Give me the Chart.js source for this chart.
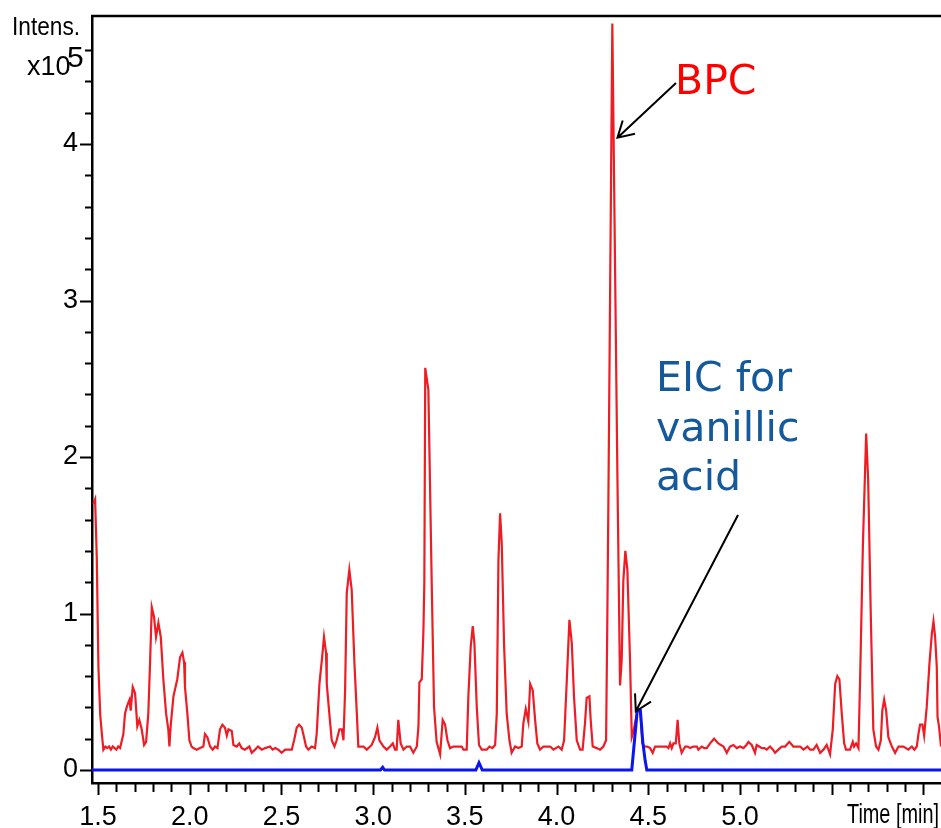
<!DOCTYPE html>
<html>
<head>
<meta charset="utf-8">
<script src="https://cdn.jsdelivr.net/npm/chart.js@4.4.1/dist/chart.umd.min.js"></script>
<style>
  html, body { margin: 0; padding: 0; background: #fff; }
  #wrap { width: 941px; height: 828px; position: relative; }
</style>
</head>
<body>
<div id="wrap"><canvas id="chrom"></canvas></div>
<script>
// BPC trace (time in min, intensity x10^5)
const bpcTime = [
  1.474, 1.484, 1.493, 1.502, 1.512, 1.520, 1.529, 1.540, 1.550, 1.560, 1.570, 1.580, 1.590, 1.600, 1.610, 1.620,
  1.630, 1.638, 1.647, 1.656, 1.665, 1.672, 1.678, 1.689, 1.702, 1.714, 1.725, 1.738, 1.751, 1.762, 1.774, 1.784,
  1.793, 1.805, 1.816, 1.829, 1.842, 1.856, 1.871, 1.883, 1.889, 1.896, 1.911, 1.932, 1.947, 1.960, 1.969, 1.974,
  1.987, 1.998, 2.010, 2.020, 2.038, 2.056, 2.074, 2.083, 2.096, 2.111, 2.125, 2.138, 2.151, 2.165, 2.178, 2.192,
  2.202, 2.211, 2.229, 2.238, 2.256, 2.270, 2.283, 2.300, 2.325, 2.338, 2.356, 2.372, 2.393, 2.411, 2.438, 2.452,
  2.466, 2.483, 2.501, 2.520, 2.540, 2.556, 2.569, 2.583, 2.596, 2.611, 2.623, 2.634, 2.647, 2.665, 2.683, 2.692,
  2.707, 2.720, 2.732, 2.743, 2.747, 2.761, 2.774, 2.789, 2.801, 2.816, 2.829, 2.838, 2.847, 2.856, 2.870, 2.883,
  2.898, 2.911, 2.919, 2.947, 2.965, 2.992, 3.010, 3.023, 3.034, 3.056, 3.074, 3.092, 3.107, 3.119, 3.128, 3.137,
  3.150, 3.165, 3.183, 3.201, 3.219, 3.238, 3.247, 3.252, 3.265, 3.274, 3.279, 3.284, 3.301, 3.319, 3.332, 3.346,
  3.365, 3.379, 3.392, 3.405, 3.419, 3.437, 3.460, 3.483, 3.492, 3.510, 3.519, 3.532, 3.543, 3.552, 3.565, 3.577,
  3.592, 3.619, 3.634, 3.650, 3.665, 3.674, 3.683, 3.692, 3.701, 3.714, 3.728, 3.743, 3.755, 3.774, 3.792, 3.810,
  3.819, 3.832, 3.846, 3.856, 3.870, 3.883, 3.895, 3.910, 3.928, 3.947, 3.965, 3.983, 4.010, 4.028, 4.041, 4.056,
  4.070, 4.083, 4.095, 4.110, 4.128, 4.142, 4.155, 4.164, 4.179, 4.186, 4.197, 4.219, 4.237, 4.255, 4.270, 4.277,
  4.283, 4.304, 4.332, 4.346, 4.355, 4.364, 4.375, 4.386, 4.401, 4.410, 4.420, 4.440, 4.457, 4.468, 4.480, 4.495,
  4.510, 4.524, 4.537, 4.560, 4.582, 4.600, 4.610, 4.619, 4.628, 4.637, 4.650, 4.660, 4.669, 4.682, 4.701, 4.715,
  4.728, 4.745, 4.765, 4.773, 4.792, 4.805, 4.819, 4.837, 4.859, 4.882, 4.910, 4.928, 4.946, 4.964, 4.983, 5.000,
  5.019, 5.035, 5.046, 5.064, 5.082, 5.091, 5.105, 5.119, 5.133, 5.146, 5.164, 5.180, 5.191, 5.209, 5.228, 5.246,
  5.269, 5.291, 5.310, 5.328, 5.346, 5.368, 5.382, 5.400, 5.418, 5.437, 5.455, 5.473, 5.491, 5.506, 5.519, 5.531,
  5.542, 5.555, 5.568, 5.578, 5.600, 5.615, 5.622, 5.633, 5.646, 5.655, 5.670, 5.688, 5.699, 5.713, 5.727, 5.742,
  5.755, 5.768, 5.776, 5.786, 5.797, 5.809, 5.828, 5.846, 5.864, 5.891, 5.918, 5.937, 5.951, 5.964, 5.973, 5.982,
  5.995, 6.004, 6.018, 6.033, 6.046, 6.055, 6.064, 6.073, 6.077, 6.085, 6.096
];
const bpcIntensity = [
  1.70, 1.73, 1.36, 0.66, 0.35, 0.24, 0.13, 0.15, 0.14, 0.15, 0.13, 0.15, 0.14, 0.13, 0.15, 0.14,
  0.19, 0.23, 0.36, 0.40, 0.43, 0.45, 0.38, 0.53, 0.49, 0.28, 0.32, 0.26, 0.16, 0.18, 0.36, 0.70,
  1.04, 0.98, 0.85, 0.94, 0.85, 0.58, 0.36, 0.26, 0.15, 0.28, 0.47, 0.58, 0.72, 0.75, 0.69, 0.53,
  0.36, 0.19, 0.15, 0.14, 0.13, 0.14, 0.15, 0.23, 0.21, 0.15, 0.13, 0.15, 0.14, 0.26, 0.29, 0.27,
  0.22, 0.26, 0.25, 0.16, 0.15, 0.17, 0.14, 0.13, 0.15, 0.11, 0.13, 0.15, 0.13, 0.14, 0.15, 0.13,
  0.14, 0.13, 0.11, 0.13, 0.13, 0.13, 0.19, 0.27, 0.29, 0.27, 0.21, 0.15, 0.13, 0.15, 0.14, 0.23,
  0.55, 0.70, 0.85, 0.75, 0.55, 0.36, 0.19, 0.15, 0.19, 0.26, 0.26, 0.19, 0.51, 1.13, 1.28, 1.15,
  0.68, 0.36, 0.15, 0.15, 0.13, 0.16, 0.21, 0.27, 0.19, 0.15, 0.13, 0.15, 0.17, 0.13, 0.13, 0.32,
  0.17, 0.13, 0.15, 0.15, 0.11, 0.15, 0.28, 0.56, 0.58, 0.89, 1.20, 2.57, 2.43, 1.21, 0.40, 0.18,
  0.10, 0.32, 0.29, 0.19, 0.14, 0.15, 0.15, 0.15, 0.13, 0.13, 0.47, 0.79, 0.92, 0.81, 0.40, 0.16,
  0.13, 0.13, 0.15, 0.14, 0.16, 0.36, 1.34, 1.64, 1.45, 0.79, 0.36, 0.19, 0.11, 0.15, 0.14, 0.15,
  0.30, 0.39, 0.31, 0.55, 0.51, 0.32, 0.17, 0.13, 0.15, 0.15, 0.15, 0.13, 0.15, 0.13, 0.19, 0.58,
  0.96, 0.81, 0.47, 0.19, 0.13, 0.13, 0.30, 0.46, 0.47, 0.32, 0.15, 0.14, 0.13, 0.15, 0.19, 1.00,
  1.79, 4.77, 1.85, 0.54, 0.70, 1.21, 1.40, 1.28, 0.68, 0.21, 0.25, 0.38, 0.37, 0.17, 0.15, 0.15,
  0.14, 0.11, 0.15, 0.15, 0.15, 0.15, 0.14, 0.17, 0.14, 0.17, 0.17, 0.32, 0.17, 0.11, 0.15, 0.15,
  0.14, 0.15, 0.15, 0.13, 0.15, 0.14, 0.14, 0.17, 0.20, 0.17, 0.15, 0.11, 0.15, 0.16, 0.14, 0.15,
  0.14, 0.16, 0.18, 0.16, 0.11, 0.16, 0.15, 0.14, 0.14, 0.13, 0.15, 0.13, 0.11, 0.13, 0.15, 0.15,
  0.18, 0.15, 0.15, 0.15, 0.13, 0.15, 0.13, 0.13, 0.16, 0.11, 0.13, 0.16, 0.10, 0.26, 0.55, 0.60,
  0.58, 0.36, 0.17, 0.13, 0.13, 0.18, 0.15, 0.17, 0.14, 0.58, 1.43, 2.15, 1.85, 1.00, 0.26, 0.15,
  0.13, 0.19, 0.38, 0.45, 0.38, 0.21, 0.15, 0.11, 0.15, 0.15, 0.13, 0.15, 0.13, 0.15, 0.23, 0.29,
  0.29, 0.22, 0.40, 0.68, 0.87, 0.95, 0.85, 0.66, 0.34, 0.28, 0.15
];

// EIC trace for vanillic acid
const eicTime = [1.466, 3.040, 3.052, 3.062, 3.560, 3.577, 3.595, 4.410, 4.440, 4.457, 4.470, 4.483, 4.492, 6.096];
const eicIntensity = [0, 0, 0.017, 0, 0, 0.047, 0, 0, 0.38, 0.38, 0.18, 0.06, 0, 0];

const xTickLabels = ["1.5", "2.0", "2.5", "3.0", "3.5", "4.0", "4.5", "5.0"];
const yTickLabels = ["0", "1", "2", "3", "4"];

const xMin = 1.467, xMax = 6.096;
const yMin = -0.083, yMax = 4.818;

// minor ticks every 0.1 min / 0.2 units
const xTicks = [];
for (let i = 15; i <= 60; i++) xTicks.push(i / 10);
const yTicks = [];
for (let i = 0; i <= 23; i++) yTicks.push(i / 5);

const bpcArrowAt = [4.332, 4.04];
const eicArrowAt = [4.432, 0.375];

const labelFont = "'Liberation Sans', Arial, sans-serif";

function isLabelled(labels, v) {
  return labels.find(l => Math.abs(parseFloat(l) - v) < 1e-6);
}

function arrow(ctx, x1, y1, x2, y2) {
  const ang = Math.atan2(y2 - y1, x2 - x1);
  const L = 18, w = Math.PI / 6;
  ctx.beginPath();
  ctx.moveTo(x1, y1);
  ctx.lineTo(x2, y2);
  ctx.moveTo(x2 - L * Math.cos(ang - w), y2 - L * Math.sin(ang - w));
  ctx.lineTo(x2, y2);
  ctx.lineTo(x2 - L * Math.cos(ang + w), y2 - L * Math.sin(ang + w));
  ctx.stroke();
}

const decor = {
  id: "decor",
  afterDraw(chart) {
    const { ctx, chartArea: a, scales: { x, y } } = chart;
    ctx.save();
    ctx.strokeStyle = "#000";
    // top frame line
    ctx.lineWidth = 2.5;
    ctx.beginPath();
    ctx.moveTo(a.left - 1, a.top);
    ctx.lineTo(a.right, a.top);
    ctx.stroke();

    // tick marks
    ctx.lineWidth = 2;
    ctx.beginPath();
    xTicks.forEach(v => {
      const px = Math.round(x.getPixelForValue(v)) + 0.5;
      const len = Math.abs(v * 2 - Math.round(v * 2)) < 1e-6 ? 12 : 9;
      ctx.moveTo(px, a.bottom);
      ctx.lineTo(px, a.bottom + len);
    });
    yTicks.forEach(v => {
      const py = Math.round(y.getPixelForValue(v)) + 0.5;
      const len = isLabelled(yTickLabels, v) ? 12 : 7;
      ctx.moveTo(a.left, py);
      ctx.lineTo(a.left - len, py);
    });
    ctx.stroke();

    // axis captions
    ctx.fillStyle = "#000";
    ctx.textBaseline = "alphabetic";
    ctx.textAlign = "left";
    ctx.font = "25px " + labelFont;
    ctx.fillText("Intens.", 12, 35, 68);
    ctx.font = "27px " + labelFont;
    ctx.fillText("x10", 27, 75);
    ctx.font = "30px " + labelFont;
    ctx.fillText("5", 67, 67);
    ctx.font = "28px " + labelFont;
    ctx.textAlign = "right";
    ctx.fillText("Time [min]", 939, 823, 92);

    // annotations
    ctx.textAlign = "left";
    ctx.font = "41px 'DejaVu Sans', sans-serif";
    ctx.fillStyle = "#ff0000";
    ctx.fillText("BPC", 675, 94);
    ctx.fillStyle = "#13599b";
    ctx.fillText("EIC for", 656, 391);
    ctx.fillText("vanillic", 656, 441);
    ctx.fillText("acid", 656, 490);

    ctx.strokeStyle = "#000";
    ctx.lineWidth = 2;
    arrow(ctx, 676, 83, x.getPixelForValue(bpcArrowAt[0]), y.getPixelForValue(bpcArrowAt[1]));
    arrow(ctx, 738, 515, x.getPixelForValue(eicArrowAt[0]), y.getPixelForValue(eicArrowAt[1]));
    ctx.restore();
  }
};

const toPoints = (ts, vs) => ts.map((t, i) => ({ x: t, y: vs[i] }));

new Chart(document.getElementById("chrom"), {
  type: "line",
  data: {
    datasets: [
      {
        label: "EIC",
        data: toPoints(eicTime, eicIntensity),
        borderColor: "#0a14f5",
        borderWidth: 3,
        pointRadius: 0,
        tension: 0
      },
      {
        label: "BPC",
        data: toPoints(bpcTime, bpcIntensity),
        borderColor: "#ee1c24",
        borderWidth: 2.2,
        pointRadius: 0,
        tension: 0
      }
    ]
  },
  options: {
    responsive: true,
    maintainAspectRatio: false,
    animation: false,
    layout: { padding: { top: 16, right: 0, left: 0, bottom: 0 } },
    plugins: { legend: { display: false }, tooltip: { enabled: false } },
    scales: {
      x: {
        type: "linear",
        min: xMin,
        max: xMax,
        grid: { display: false },
        border: { display: true, color: "#000", width: 2.5 },
        afterBuildTicks: s => { s.ticks = xTicks.map(v => ({ value: v })); },
        afterFit: s => { s.height = 45; s.paddingLeft = 0; s.paddingRight = 0; },
        ticks: {
          autoSkip: false,
          maxRotation: 0,
          padding: 10,
          color: "#000",
          font: { family: labelFont, size: 27 },
          callback: v => isLabelled(xTickLabels, v) || ""
        }
      },
      y: {
        min: yMin,
        max: yMax,
        grid: { display: false },
        border: { display: true, color: "#000", width: 2.5 },
        afterBuildTicks: s => { s.ticks = yTicks.map(v => ({ value: v })); },
        afterFit: s => { s.width = 92; s.paddingTop = 0; s.paddingBottom = 0; },
        ticks: {
          autoSkip: false,
          padding: 6,
          color: "#000",
          font: { family: labelFont, size: 27 },
          callback: v => isLabelled(yTickLabels, v) || ""
        }
      }
    }
  },
  plugins: [decor]
});
</script>
</body>
</html>
